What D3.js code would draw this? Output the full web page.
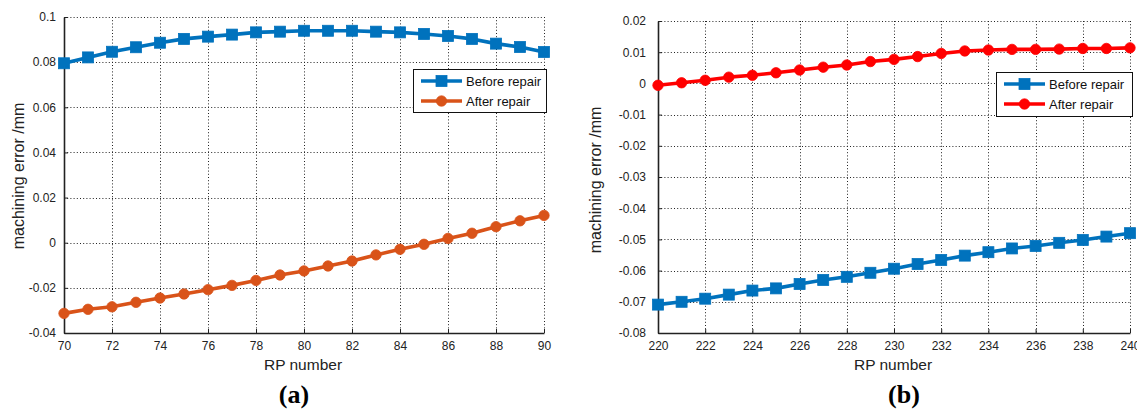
<!DOCTYPE html>
<html>
<head>
<meta charset="utf-8">
<script src="https://cdn.jsdelivr.net/npm/d3@7"></script>
<style>
html,body{margin:0;padding:0;background:#fff;}
svg{display:block;font-family:"Liberation Sans",Arial,Helvetica,sans-serif;}
</style>
</head>
<body>
<svg id="chart" width="1137" height="411"></svg>
<script>
// ---- data ----
const rpA = d3.range(70, 91);
const beforeA = [0.0795,0.0821,0.0846,0.0866,0.0886,0.0903,0.0913,0.0922,0.0932,0.0935,0.0939,0.0939,0.0939,0.0935,0.0932,0.0925,0.0916,0.0903,0.0882,0.0867,0.0845];
const afterA  = [-0.0313,-0.0295,-0.0284,-0.0264,-0.0245,-0.0227,-0.0208,-0.0189,-0.0167,-0.0143,-0.0125,-0.0103,-0.0081,-0.0054,-0.0029,-0.0007,0.0019,0.0042,0.0071,0.0097,0.0121];
const rpB = d3.range(220, 241);
const beforeB = [-0.0709,-0.0700,-0.0690,-0.0677,-0.0664,-0.0657,-0.0643,-0.0630,-0.0620,-0.0607,-0.0594,-0.0579,-0.0566,-0.0552,-0.0541,-0.0529,-0.0521,-0.0511,-0.0502,-0.0491,-0.0480];
const afterB  = [-0.0006,0.0002,0.0010,0.0020,0.0026,0.0034,0.0043,0.0052,0.0059,0.0070,0.0077,0.0086,0.0096,0.0104,0.0107,0.0109,0.0109,0.0110,0.0112,0.0112,0.0114];
const xTicksA = [70,72,74,76,78,80,82,84,86,88,90];
const xTicksB = [220,222,224,226,228,230,232,234,236,238,240];
const yTicksA = ["-0.04","-0.02","0","0.02","0.04","0.06","0.08","0.1"];
const yTicksB = ["-0.08","-0.07","-0.06","-0.05","-0.04","-0.03","-0.02","-0.01","0","0.01","0.02"];
const seriesNames = ["Before repair","After repair"];
const xLabel = "RP number";
const yLabel = "machining error /mm";
const panelLabels = ["(a)","(b)"];

const svg = d3.select("#chart");

function drawPanel(cfg){
  const g = svg.append("g");
  const x = d3.scaleLinear().domain([cfg.xs[0], cfg.xs[cfg.xs.length-1]]).range([cfg.x0, cfg.x1]);
  const yVals = cfg.yt.map(Number);
  const y = d3.scaleLinear().domain([d3.min(yVals), d3.max(yVals)]).range([cfg.y1, cfg.y0]);

  // grid
  const grid = g.append("g").attr("stroke","#222").attr("stroke-width",1).attr("stroke-dasharray","1,2.2");
  grid.selectAll(".gx").data(cfg.xt).join("line")
    .attr("x1",d=>Math.round(x(d))+0.5).attr("x2",d=>Math.round(x(d))+0.5)
    .attr("y1",cfg.y0).attr("y2",cfg.y1);
  grid.selectAll(".gy").data(yVals).join("line")
    .attr("y1",d=>Math.round(y(d))+0.5).attr("y2",d=>Math.round(y(d))+0.5)
    .attr("x1",cfg.x0).attr("x2",cfg.x1);

  // axes
  const xAxis = d3.axisBottom(x).tickValues(cfg.xt).tickSizeInner(-4).tickSizeOuter(0).tickPadding(8).tickFormat(d3.format("d"));
  const gx = g.append("g").attr("transform",`translate(0,${cfg.y1})`).call(xAxis);
  gx.select(".domain").attr("stroke","#222").attr("stroke-width",1.6);
  gx.selectAll(".tick line").attr("stroke","#222");
  gx.selectAll("text").attr("font-size",12).attr("fill","#222").attr("font-family","Liberation Sans, Arial, sans-serif");

  const yAxis = d3.axisLeft(y).tickValues(yVals).tickSizeInner(-4).tickSizeOuter(0).tickPadding(cfg.ypad)
    .tickFormat((d,i)=>cfg.yt[i]);
  const gy = g.append("g").attr("transform",`translate(${cfg.x0},0)`).call(yAxis);
  gy.select(".domain").attr("stroke","#222").attr("stroke-width",1.6);
  gy.selectAll(".tick line").attr("stroke","#222");
  gy.selectAll("text").attr("font-size",12).attr("fill","#222").attr("font-family","Liberation Sans, Arial, sans-serif");

  // series
  const line = d3.line().x((d,i)=>x(cfg.xs[i])).y(d=>y(d));
  cfg.series.forEach(s=>{
    g.append("path").datum(s.values).attr("d",line).attr("fill","none")
      .attr("stroke",s.color).attr("stroke-width",3.6).attr("stroke-linejoin","round");
    const m = g.append("g");
    s.values.forEach((v,i)=>{
      drawMarker(m, s.shape, x(cfg.xs[i]), y(v), s.color);
    });
  });

  // legend
  const L = cfg.legend;
  g.append("rect").attr("x",L.x+0.5).attr("y",L.y+0.5).attr("width",L.w).attr("height",L.h)
    .attr("fill","#fff").attr("stroke","#111").attr("stroke-width",1);
  cfg.series.forEach((s,i)=>{
    const ry = L.y + 12 + i*20;
    g.append("line").attr("x1",L.x+8).attr("x2",L.x+49).attr("y1",ry).attr("y2",ry)
      .attr("stroke",s.color).attr("stroke-width",3.6);
    drawMarker(g, s.shape, L.x+28.5, ry, s.color);
    g.append("text").attr("x",L.x+53).attr("y",ry).attr("dy","0.35em")
      .attr("font-size",13).attr("fill","#111").text(s.name);
  });

  // labels
  g.append("text").attr("x",cfg.xlabX).attr("y",370).attr("text-anchor","middle")
    .attr("font-size",15.5).attr("fill","#222").text(xLabel);
  g.append("text").attr("transform",`translate(${cfg.ylabX},${cfg.ylabY}) rotate(-90)`)
    .attr("text-anchor","middle").attr("font-size",16).attr("fill","#222").text(yLabel);
  g.append("text").attr("x",cfg.plX).attr("y",403).attr("text-anchor","middle")
    .attr("font-size",26).attr("font-weight","bold").attr("font-family","Liberation Serif, Times New Roman, serif")
    .attr("fill","#000").text(cfg.pl);
}

function drawMarker(sel, shape, cx, cy, color){
  if(shape==="square"){
    sel.append("rect").attr("x",cx-5.5).attr("y",cy-5.5).attr("width",11).attr("height",11)
      .attr("fill",color).attr("stroke",color).attr("stroke-width",0.8);
  } else {
    sel.append("circle").attr("cx",cx).attr("cy",cy).attr("r",5.2)
      .attr("fill",color).attr("stroke",color).attr("stroke-width",0.8);
  }
}

drawPanel({
  xs: rpA, xt: xTicksA, yt: yTicksA,
  x0: 64, x1: 544, y0: 17, y1: 333, ypad: 8,
  series: [
    {name: seriesNames[0], values: beforeA, color: "#0072BD", shape: "square"},
    {name: seriesNames[1], values: afterA, color: "#D95319", shape: "circle"}
  ],
  legend: {x: 413, y: 69, w: 133, h: 43},
  xlabX: 303, ylabX: 24, ylabY: 176, plX: 294, pl: panelLabels[0]
});

drawPanel({
  xs: rpB, xt: xTicksB, yt: yTicksB,
  x0: 658, x1: 1130, y0: 21, y1: 333, ypad: 12,
  series: [
    {name: seriesNames[0], values: beforeB, color: "#0072BD", shape: "square"},
    {name: seriesNames[1], values: afterB, color: "#FF0000", shape: "circle"}
  ],
  legend: {x: 996, y: 72, w: 136, h: 44},
  xlabX: 893, ylabX: 601, ylabY: 180, plX: 904, pl: panelLabels[1]
});
</script>
</body>
</html>
